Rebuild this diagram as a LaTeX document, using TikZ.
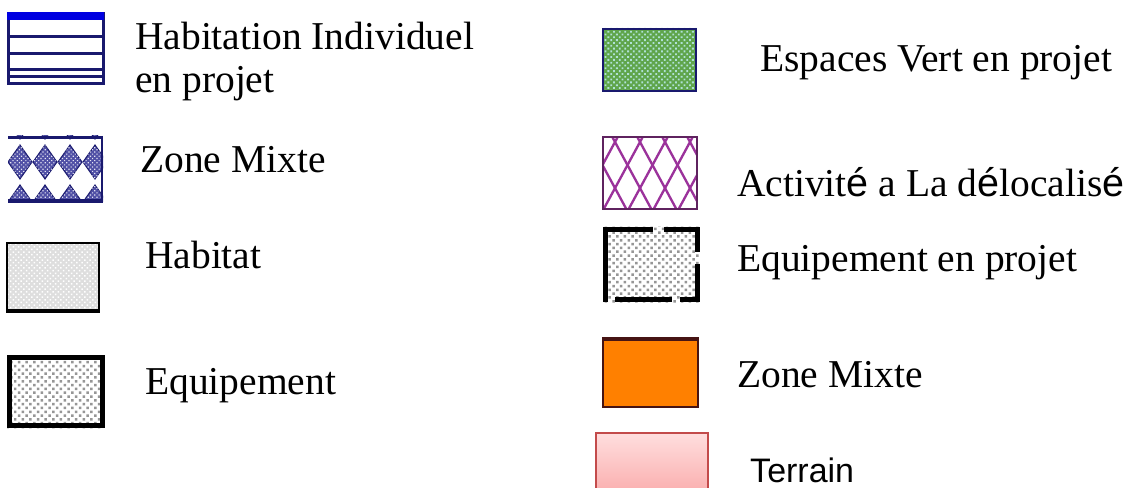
\documentclass[tikz,border=0pt]{standalone}
\usepackage{fontspec}
\setmainfont{Liberation Serif}
\newfontfamily\sansfont{Liberation Sans}
\usetikzlibrary{patterns.meta}
\definecolor{NavyLine}{RGB}{25,25,110}
\definecolor{BrightBlue}{RGB}{0,0,225}
\definecolor{DiamondBlue}{RGB}{80,80,165}
\definecolor{SoftGray}{RGB}{222,222,222}
\definecolor{DotGray}{RGB}{150,150,150}
\definecolor{GrassGreen}{RGB}{95,165,75}
\definecolor{MintDot}{RGB}{175,225,215}
\definecolor{LatticePurple}{RGB}{155,50,155}
\definecolor{DarkPurple}{RGB}{95,35,95}
\definecolor{MixOrange}{RGB}{255,128,0}
\definecolor{MixBorder}{RGB}{70,20,20}
\definecolor{TerrainRed}{RGB}{195,75,75}
\definecolor{TerrainTop}{RGB}{255,222,222}
\definecolor{TerrainLow}{RGB}{250,172,172}
\tikzset{
  legendtext/.style={font=\fontsize{33.7}{36.7}\selectfont,anchor=base west,
    inner sep=0pt,align=left},
  sanstext/.style={font=\sansfont\fontsize{29}{33}\selectfont,anchor=base west,
    inner sep=0pt},
  navyline/.style={draw=NavyLine,line width=0.9mm},
  graydots/.style={pattern={Dots[angle=45,distance=4.6pt,radius=1.5pt]},
    pattern color=DotGray},
  heavyedge/.style={draw=black,line width=1.6mm},
  brokenedge/.style={black,line width=1.5mm}
}

\begin{document}
\begin{tikzpicture}[x=0.03cm,y=-0.03cm]
  \useasboundingbox (0,0) rectangle (1131,488);

  % habitation individuel en projet
  \fill[white] (8,14) rectangle (103,84);
  \draw[navyline] (8,14) rectangle (103,84);
  \draw[navyline] (8,36.5) -- (103,36.5);
  \draw[navyline] (8,53.5) -- (103,53.5);
  \draw[navyline] (8,70) -- (103,70);
  \draw[navyline] (8,77) -- (103,77);
  \fill[BrightBlue] (7,12.5) rectangle (104,20);

  % zone mixte (losanges)
  \begin{scope}
    \clip (8,136) rectangle (103,202);
    \foreach \cx in {20,45,70,95}
      \foreach \cy in {122,162,202}
        \path[fill=DiamondBlue,draw=NavyLine,line width=0.3mm,
              postaction={pattern={Dots[angle=45,distance=2.6pt,radius=0.7pt]},
                pattern color=white!85!DiamondBlue}]
          ({\cx},{\cy-17}) -- ({\cx+12},{\cy}) -- ({\cx},{\cy+17})
          -- ({\cx-12},{\cy}) -- cycle;
  \end{scope}
  \draw[NavyLine,line width=1mm] (8,137.5) -- (103,137.5);
  \draw[NavyLine,line width=1mm] (8,201) -- (103,201);
  \draw[NavyLine,line width=0.6mm] (102,136) -- (102,202);

  % habitat
  \fill[SoftGray] (7,243) rectangle (99,312);
  \fill[pattern={Dots[angle=45,distance=3.2pt,radius=0.9pt]},pattern color=white]
    (7,243) rectangle (99,312);
  \draw[black,line width=0.6mm] (7,243) rectangle (99,312);
  \draw[black,line width=1.2mm] (7,311) -- (99,311);

  % equipement
  \fill[white] (7,355) rectangle (105,428);
  \fill[graydots] (7,355) rectangle (105,428);
  \draw[heavyedge] (9.5,357.5) rectangle (102.5,425.5);

  % espaces vert en projet
  \fill[GrassGreen] (602,28) rectangle (697,92);
  \fill[pattern={Dots[angle=45,distance=3.4pt,radius=1.1pt]},pattern color=MintDot]
    (602,28) rectangle (697,92);
  \draw[NavyLine,line width=0.8mm] (603,29) rectangle (696,91);

  % activite a la delocalise (treillis)
  \fill[white] (603,137) rectangle (697,209);
  \begin{scope}
    \clip (603,137) rectangle (697,209);
    \foreach \k in {-2,...,5} {
      \draw[LatticePurple,line width=0.7mm] ({612.3+25*\k},137) -- ++(39,72);
      \draw[LatticePurple,line width=0.7mm] ({617.7+25*\k},137) -- ++(-39,72);
    }
  \end{scope}
  \draw[DarkPurple,line width=0.8mm] (603,137) rectangle (697,209);

  % equipement en projet (bord interrompu)
  \fill[white] (603,227) rectangle (699,302);
  \fill[graydots] (603,227) rectangle (699,302);
  \draw[brokenedge] (605,302) -- (605,229.5) -- (653,229.5);
  \draw[brokenedge] (664,229.5) -- (697,229.5) -- (697,252);
  \draw[brokenedge] (697,264) -- (697,299.5) -- (680,299.5);
  \draw[brokenedge] (672,299.5) -- (615,299.5);

  % zone mixte (orange)
  \fill[MixOrange] (603,338) rectangle (698,407);
  \draw[MixBorder,line width=0.6mm] (603,338) rectangle (698,407);
  \draw[MixBorder,line width=1mm] (603,339) -- (698,339);

  % terrain
  \shade[top color=TerrainTop,bottom color=TerrainLow]
    (596,433) rectangle (708,496);
  \draw[TerrainRed,line width=0.45mm] (596,433) rectangle (708,496);

  % texts
  \node[legendtext] (habind) at (135,93) {Habitation Individuel\\en projet};
  \node[legendtext] (zonemix) at (140,173) {Zone Mixte};
  \node[legendtext] (habitat) at (145,268) {Habitat};
  \node[legendtext] (equip) at (145,394) {Equipement};
  \node[legendtext] (espvert) at (760,72) {Espaces Vert en projet};
  \node[legendtext] (activ) at (737,197)
    {Activit{\sansfont é} a La d{\sansfont é}localis{\sansfont é}};
  \node[legendtext] (equipproj) at (737,272) {Equipement en projet};
  \node[legendtext] (zonemixb) at (737,387) {Zone Mixte};
  \node[sanstext] (terrain) at (750,482) {Terrain};
\end{tikzpicture}
\end{document}
